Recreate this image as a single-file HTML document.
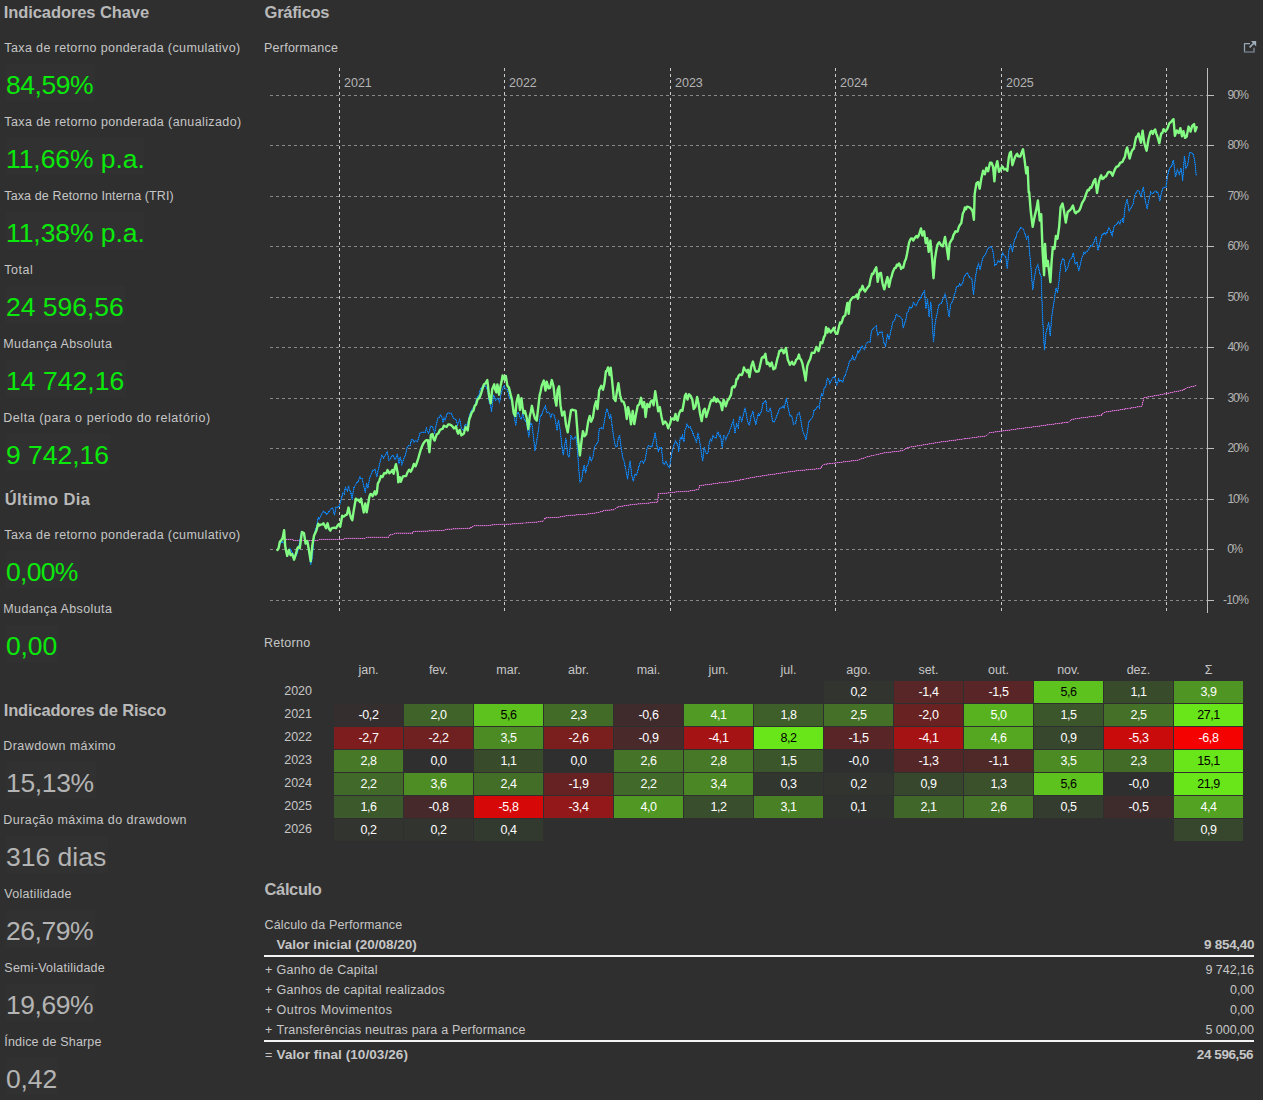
<!DOCTYPE html>
<html><head><meta charset="utf-8"><title>Performance</title>
<style>
html,body{margin:0;padding:0;background:#2f2f2f;}
html{width:1263px;height:1100px;overflow:hidden;}
body{width:1263px;height:1100px;position:relative;overflow:hidden;font-family:"Liberation Sans",sans-serif;color:#c8c8c8;}
div{position:absolute;white-space:nowrap;}
.h{font-size:16.5px;font-weight:bold;color:#b9b9b9;line-height:20px;}
.l{font-size:12.5px;line-height:16px;color:#c6c6c6;}
.b{font-weight:bold;font-size:13.5px;}
.v{font-size:26.5px;height:37px;line-height:43px;color:#0be80b;padding-left:0px;box-sizing:border-box;background:#313131;}
.v.g{color:#b4b4b4;}
.a{font-size:12px;line-height:16px;color:#b4b4b4;}
.mh{top:662px;width:69px;text-align:center;font-size:12.5px;line-height:16px;color:#c6c6c6;}
.yr{left:262px;width:50px;text-align:right;font-size:12.5px;line-height:20px;color:#c6c6c6;}
.c{width:69px;height:22px;line-height:22px;text-align:center;font-size:12.5px;letter-spacing:-0.4px;color:#fff;}
.c.k{color:#000;}
.hr{left:264px;width:990px;height:2px;background:#f4f4f4;}
svg{position:absolute;left:0;top:0;}
.hg{stroke:#888888;stroke-width:1;stroke-dasharray:3 3;shape-rendering:crispEdges;}
.vg{stroke:#cccccc;stroke-width:1;stroke-dasharray:3 3;shape-rendering:crispEdges;}
.ax{stroke:#bebebe;stroke-width:1;shape-rendering:crispEdges;}
.gr{fill:none;stroke:#84fc84;stroke-width:2.4;stroke-linejoin:round;stroke-linecap:round;}
.bl{fill:none;stroke:#0f87f5;stroke-width:1;stroke-dasharray:1 1;shape-rendering:crispEdges;}
.bl0{fill:none;stroke:#1478dc;stroke-width:1.15;opacity:0.75;}
.pk0{fill:none;stroke:#da70d6;stroke-width:1;opacity:0.55;}
.pk{fill:none;stroke:#da70d6;stroke-width:1;stroke-dasharray:1 1;shape-rendering:crispEdges;}
.t{font-family:"Liberation Sans",sans-serif;font-size:12.5px;fill:#b4b4b4;}
</style></head><body>
<div class="h" style="left:3.80px;top:2px;letter-spacing:-0.090px;">Indicadores Chave</div>
<div class="l" style="left:4.30px;top:40px;letter-spacing:0.384px;">Taxa de retorno ponderada (cumulativo)</div>
<div class="v" style="left:6px;top:64px;width:89.0px;padding-left:0.00px;letter-spacing:-0.463px">84,59%</div>
<div class="l" style="left:4.30px;top:114px;letter-spacing:0.392px;">Taxa de retorno ponderada (anualizado)</div>
<div class="v" style="left:6px;top:138px;width:138.4px;padding-left:0.00px;letter-spacing:-0.071px">11,66% p.a.</div>
<div class="l" style="left:4.30px;top:188px;letter-spacing:0.122px;">Taxa de Retorno Interna (TRI)</div>
<div class="v" style="left:6px;top:212px;width:138.4px;padding-left:0.00px;letter-spacing:-0.071px">11,38% p.a.</div>
<div class="l" style="left:4.30px;top:262px;letter-spacing:0.518px;">Total</div>
<div class="v" style="left:6px;top:286px;width:119.0px;padding-left:0.00px;letter-spacing:-0.019px">24 596,56</div>
<div class="l" style="left:3.30px;top:336px;letter-spacing:0.381px;">Mudança Absoluta</div>
<div class="v" style="left:6px;top:360px;width:119.5px;padding-left:0.00px;letter-spacing:0.043px">14 742,16</div>
<div class="l" style="left:3.30px;top:410px;letter-spacing:0.543px;">Delta (para o período do relatório)</div>
<div class="v" style="left:6px;top:434px;width:104.2px;padding-left:0.00px;letter-spacing:-0.031px">9 742,16</div>
<div class="h" style="left:4.80px;top:489px;letter-spacing:0.399px;">Último Dia</div>
<div class="l" style="left:4.30px;top:527px;letter-spacing:0.384px;">Taxa de retorno ponderada (cumulativo)</div>
<div class="v" style="left:6px;top:551px;width:73.8px;padding-left:0.00px;letter-spacing:-0.694px">0,00%</div>
<div class="l" style="left:3.30px;top:601px;letter-spacing:0.381px;">Mudança Absoluta</div>
<div class="v" style="left:6px;top:625px;width:52.4px;padding-left:0.00px;letter-spacing:-0.146px">0,00</div>
<div class="h" style="left:3.80px;top:700px;letter-spacing:-0.178px;">Indicadores de Risco</div>
<div class="l" style="left:3.30px;top:738px;letter-spacing:0.427px;">Drawdown máximo</div>
<div class="v g" style="left:6px;top:762px;width:89.6px;padding-left:0.00px;letter-spacing:-0.343px">15,13%</div>
<div class="l" style="left:3.30px;top:812px;letter-spacing:0.438px;">Duração máxima do drawdown</div>
<div class="v g" style="left:6px;top:836px;width:102.0px;padding-left:0.00px;letter-spacing:0.009px">316 dias</div>
<div class="l" style="left:4.30px;top:886px;letter-spacing:0.301px;">Volatilidade</div>
<div class="v g" style="left:6px;top:910px;width:89.0px;padding-left:0.00px;letter-spacing:-0.463px">26,79%</div>
<div class="l" style="left:4.30px;top:960px;letter-spacing:0.242px;">Semi-Volatilidade</div>
<div class="v g" style="left:6px;top:984px;width:89.0px;padding-left:0.00px;letter-spacing:-0.463px">19,69%</div>
<div class="l" style="left:4.30px;top:1034px;letter-spacing:0.176px;">Índice de Sharpe</div>
<div class="v g" style="left:6px;top:1058px;width:52.4px;padding-left:0.00px;letter-spacing:-0.146px">0,42</div>
<div class="h" style="left:264.60px;top:2px;letter-spacing:-0.295px;">Gráficos</div>
<div class="l" style="left:264.00px;top:40px;letter-spacing:0.239px;">Performance</div>
<div class="l" style="left:264.00px;top:635px;letter-spacing:0.297px;">Retorno</div>
<div class="h" style="left:264.60px;top:879px;letter-spacing:-0.386px;">Cálculo</div>
<div class="l" style="left:264.50px;top:917px;letter-spacing:0.174px;">Cálculo da Performance</div>
<div class="a" style="left:1227.60px;top:87px;letter-spacing:-1.374px;">90%</div>
<div class="a" style="left:1227.60px;top:137px;letter-spacing:-1.374px;">80%</div>
<div class="a" style="left:1227.60px;top:188px;letter-spacing:-1.374px;">70%</div>
<div class="a" style="left:1227.60px;top:238px;letter-spacing:-1.374px;">60%</div>
<div class="a" style="left:1227.60px;top:289px;letter-spacing:-1.374px;">50%</div>
<div class="a" style="left:1227.60px;top:339px;letter-spacing:-1.374px;">40%</div>
<div class="a" style="left:1227.60px;top:390px;letter-spacing:-1.374px;">30%</div>
<div class="a" style="left:1227.60px;top:440px;letter-spacing:-1.374px;">20%</div>
<div class="a" style="left:1227.60px;top:491px;letter-spacing:-1.374px;">10%</div>
<div class="a" style="left:1227.20px;top:541px;letter-spacing:-1.674px;">0%</div>
<div class="a" style="left:1223.00px;top:592px;letter-spacing:-0.715px;">-10%</div>
<svg width="1263" height="640" viewBox="0 0 1263 640">
<line x1="270" y1="95.5" x2="1207" y2="95.5" class="hg"/>
<line x1="1207" y1="95.5" x2="1214" y2="95.5" class="ax"/>
<line x1="270" y1="145.5" x2="1207" y2="145.5" class="hg"/>
<line x1="1207" y1="145.5" x2="1214" y2="145.5" class="ax"/>
<line x1="270" y1="196.5" x2="1207" y2="196.5" class="hg"/>
<line x1="1207" y1="196.5" x2="1214" y2="196.5" class="ax"/>
<line x1="270" y1="246.5" x2="1207" y2="246.5" class="hg"/>
<line x1="1207" y1="246.5" x2="1214" y2="246.5" class="ax"/>
<line x1="270" y1="297.5" x2="1207" y2="297.5" class="hg"/>
<line x1="1207" y1="297.5" x2="1214" y2="297.5" class="ax"/>
<line x1="270" y1="347.5" x2="1207" y2="347.5" class="hg"/>
<line x1="1207" y1="347.5" x2="1214" y2="347.5" class="ax"/>
<line x1="270" y1="398.5" x2="1207" y2="398.5" class="hg"/>
<line x1="1207" y1="398.5" x2="1214" y2="398.5" class="ax"/>
<line x1="270" y1="448.5" x2="1207" y2="448.5" class="hg"/>
<line x1="1207" y1="448.5" x2="1214" y2="448.5" class="ax"/>
<line x1="270" y1="499.5" x2="1207" y2="499.5" class="hg"/>
<line x1="1207" y1="499.5" x2="1214" y2="499.5" class="ax"/>
<line x1="270" y1="549.5" x2="1207" y2="549.5" class="hg"/>
<line x1="1207" y1="549.5" x2="1214" y2="549.5" class="ax"/>
<line x1="270" y1="600.5" x2="1207" y2="600.5" class="hg"/>
<line x1="1207" y1="600.5" x2="1214" y2="600.5" class="ax"/>
<line x1="339.5" y1="68" x2="339.5" y2="611" class="vg"/>
<line x1="504.5" y1="68" x2="504.5" y2="611" class="vg"/>
<line x1="670.5" y1="68" x2="670.5" y2="611" class="vg"/>
<line x1="835.5" y1="68" x2="835.5" y2="611" class="vg"/>
<line x1="1001.5" y1="68" x2="1001.5" y2="611" class="vg"/>
<line x1="1166.5" y1="68" x2="1166.5" y2="611" class="vg"/>
<line x1="1207.5" y1="68" x2="1207.5" y2="613" class="ax"/>
<path d="M283.7,539.4 L293.1,539.4 L294.1,540.5 L318.2,540.5 L319.2,539.4 L343.3,539.4 L344.3,538.4 L365.3,538.4 L366.3,537.3 L388.3,537.3 L389.3,535.2 L393.5,534.2 L395.6,533.1 L412.3,533.1 L413.4,531.5 L428.0,531.0 L445.1,530.3 L446.1,529.3 L470.2,528.2 L474.4,525.7 L486.9,525.7 L496.3,524.5 L509.9,524.1 L524.6,523.0 L537.1,522.0 L543.4,520.9 L545.5,517.8 L558.0,517.4 L566.4,515.7 L580.0,514.6 L584.5,514.5 L599.2,512.4 L604.4,510.3 L613.8,509.9 L617.0,507.2 L622.2,506.1 L632.7,504.5 L643.1,503.6 L657.8,502.0 L658.2,493.6 L666.1,493.2 L676.6,491.9 L689.1,491.1 L698.5,489.4 L699.6,485.6 L705.9,484.8 L718.4,483.1 L732.0,481.5 L741.8,479.6 L755.4,476.9 L776.3,473.8 L797.2,470.7 L820.2,468.6 L823.3,464.4 L841.1,462.3 L857.9,460.2 L866.2,457.1 L884.0,452.9 L902.3,450.8 L907.7,447.5 L940.0,442.1 L985.8,436.0 L989.8,432.7 L1031.5,427.1 L1069.2,422.0 L1071.9,419.3 L1101.5,415.2 L1104.2,412.3 L1141.9,406.3 L1143.8,397.7 L1166.1,393.7 L1182.3,390.2 L1187.7,387.5 L1196.3,385.6" class="pk0"/>
<path d="M283.7,539.4 L293.1,539.4 L294.1,540.5 L318.2,540.5 L319.2,539.4 L343.3,539.4 L344.3,538.4 L365.3,538.4 L366.3,537.3 L388.3,537.3 L389.3,535.2 L393.5,534.2 L395.6,533.1 L412.3,533.1 L413.4,531.5 L428.0,531.0 L445.1,530.3 L446.1,529.3 L470.2,528.2 L474.4,525.7 L486.9,525.7 L496.3,524.5 L509.9,524.1 L524.6,523.0 L537.1,522.0 L543.4,520.9 L545.5,517.8 L558.0,517.4 L566.4,515.7 L580.0,514.6 L584.5,514.5 L599.2,512.4 L604.4,510.3 L613.8,509.9 L617.0,507.2 L622.2,506.1 L632.7,504.5 L643.1,503.6 L657.8,502.0 L658.2,493.6 L666.1,493.2 L676.6,491.9 L689.1,491.1 L698.5,489.4 L699.6,485.6 L705.9,484.8 L718.4,483.1 L732.0,481.5 L741.8,479.6 L755.4,476.9 L776.3,473.8 L797.2,470.7 L820.2,468.6 L823.3,464.4 L841.1,462.3 L857.9,460.2 L866.2,457.1 L884.0,452.9 L902.3,450.8 L907.7,447.5 L940.0,442.1 L985.8,436.0 L989.8,432.7 L1031.5,427.1 L1069.2,422.0 L1071.9,419.3 L1101.5,415.2 L1104.2,412.3 L1141.9,406.3 L1143.8,397.7 L1166.1,393.7 L1182.3,390.2 L1187.7,387.5 L1196.3,385.6" class="pk"/>
<path d="M277.4,549.49 L278.95,546.94 L280.5,542.29 L281.55,542.5 L282.6,542.0 L284.7,543.94 L285.95,551.0 L287.2,555.11 L288.6,552.81 L290.0,548.57 L291.05,550.69 L292.1,552.45 L294.1,555.63 L296.2,555.95 L297.25,552.93 L298.3,549.79 L299.9,539.49 L301.5,531.91 L302.75,534.17 L304.0,536.13 L305.6,543.86 L307.7,542.48 L309.2,552.83 L310.7,564.74 L312.3,558.52 L314.0,537.99 L315.05,530.63 L316.1,528.36 L318.2,517.8 L319.25,519.15 L320.3,516.95 L321.85,513.56 L323.4,511.39 L325.0,512.42 L326.6,514.24 L328.15,512.84 L329.7,510.6 L331.25,508.5 L332.8,507.94 L334.5,515.02 L336.0,507.05 L337.55,507.15 L339.1,506.62 L341.2,499.56 L342.9,493.03 L344.15,493.87 L345.4,487.48 L346.45,489.72 L347.5,490.91 L348.5,485.72 L349.55,489.72 L350.6,491.3 L352.1,499.46 L353.8,487.96 L355.35,485.19 L356.9,482.56 L358.45,480.86 L360.0,476.71 L361.05,478.61 L362.1,478.8 L364.2,487.69 L365.3,492.54 L366.7,483.1 L368.0,488.1 L369.4,478.81 L370.45,475.4 L371.5,474.31 L372.55,470.11 L373.6,470.59 L375.1,469.1 L376.8,476.87 L378.8,467.58 L380.4,460.29 L382.0,455.32 L383.55,458.01 L385.1,455.55 L387.2,451.66 L388.9,460.06 L390.15,459.34 L391.4,456.45 L392.45,455.77 L393.5,455.5 L394.55,458.96 L395.6,459.33 L397.3,453.74 L398.9,464.2 L400.2,456.61 L401.9,464.69 L403.9,458.65 L405.5,454.87 L407.1,447.59 L408.65,445.75 L410.2,445.23 L411.45,439.46 L412.7,439.27 L414.1,442.61 L415.5,440.4 L417.05,441.77 L418.6,438.23 L420.0,433.13 L421.05,432.57 L422.1,432.14 L424.2,432.42 L425.25,432.37 L426.3,428.23 L428.4,433.3 L429.45,431.46 L430.5,426.14 L432.5,426.46 L433.55,430.1 L434.6,432.49 L436.2,425.01 L437.8,418.25 L439.15,417.24 L440.5,414.93 L441.75,416.85 L443.0,421.64 L444.05,417.73 L445.1,420.17 L446.65,414.63 L448.2,412.61 L449.8,413.34 L451.4,413.04 L452.45,416.01 L453.5,418.31 L454.75,418.86 L456.0,419.83 L457.6,424.69 L459.7,419.42 L461.4,428.23 L462.45,429.85 L463.5,430.1 L465.0,424.96 L466.05,424.31 L467.1,426.05 L469.2,416.51 L470.55,412.26 L471.9,409.42 L473.35,407.29 L474.8,406.25 L476.15,400.4 L477.5,397.07 L478.55,398.5 L479.6,390.91 L481.15,388.25 L482.7,386.99 L484.0,386.67 L485.3,385.5 L486.65,387.51 L488.0,392.13 L489.4,403.34 L490.45,404.64 L491.5,411.75 L492.55,403.02 L493.6,394.78 L495.7,400.42 L496.75,399.23 L497.8,398.42 L499.5,402.5 L501.2,392.74 L503.2,387.28 L504.25,385.99 L505.3,388.77 L507.4,389.54 L508.45,393.41 L509.5,398.12 L510.55,396.87 L511.6,401.7 L512.65,406.7 L513.7,413.05 L515.8,425.62 L517.3,412.39 L518.7,413.16 L520.4,418.38 L521.45,419.07 L522.5,414.05 L523.55,417.18 L524.6,420.28 L525.65,420.64 L526.7,422.93 L528.8,437.54 L530.4,423.09 L531.9,423.66 L533.4,436.54 L535.0,450.97 L536.7,441.36 L538.2,432.19 L540.3,415.34 L541.65,414.97 L543.0,410.93 L544.25,408.13 L545.5,405.96 L546.7,412.79 L548.6,412.24 L549.65,413.58 L550.7,417.64 L552.2,413.61 L553.9,414.84 L555.5,420.67 L557.0,430.36 L558.5,419.88 L560.1,429.29 L561.8,445.15 L563.3,455.13 L564.7,444.41 L566.0,438.54 L567.7,454.85 L569.3,456.71 L571.0,435.32 L572.35,439.07 L573.7,439.34 L575.8,436.32 L577.3,447.67 L578.7,468.02 L579.9,482.27 L581.6,480.07 L582.9,471.05 L584.1,465.05 L585.6,473.15 L586.65,466.33 L587.7,465.89 L589.8,456.6 L591.2,460.86 L592.9,457.28 L594.6,446.47 L596.1,444.8 L598.1,441.76 L599.2,429.09 L601.3,427.94 L603.0,428.85 L604.4,420.93 L605.9,412.75 L606.95,409.31 L608.0,411.66 L609.6,418.94 L610.7,414.35 L612.2,426.51 L613.8,438.4 L615.5,446.89 L617.0,446.6 L618.4,437.44 L619.7,435.73 L621.2,448.23 L622.6,457.02 L624.3,461.75 L626.0,470.82 L627.6,479.36 L628.9,468.32 L630.1,460.7 L631.6,474.69 L633.3,481.33 L634.7,474.43 L636.4,475.42 L638.1,469.38 L640.0,463.33 L641.05,461.33 L642.1,460.9 L643.5,462.85 L645.2,460.08 L646.9,449.4 L648.3,445.54 L649.8,446.59 L650.85,445.76 L651.9,446.96 L653.6,440.06 L655.2,432.58 L656.7,444.73 L658.2,451.23 L659.8,447.92 L661.5,447.85 L663.0,462.74 L664.4,464.62 L666.1,461.44 L667.8,465.91 L669.5,467.56 L670.7,459.43 L672.4,450.22 L674.1,444.95 L675.5,440.64 L676.55,443.71 L677.6,443.46 L678.7,451.98 L680.3,437.56 L681.35,438.98 L682.4,436.03 L683.9,442.18 L684.9,430.3 L685.95,428.41 L687.0,424.06 L688.7,427.67 L690.2,426.74 L692.3,431.17 L693.35,434.55 L694.4,436.42 L696.4,442.65 L697.9,432.69 L699.6,441.49 L701.3,452.21 L702.7,461.12 L704.2,447.57 L706.3,453.61 L707.9,452.96 L709.6,441.28 L710.65,438.99 L711.7,441.15 L712.95,435.43 L714.2,437.41 L716.3,437.94 L717.35,432.25 L718.4,432.86 L719.45,436.66 L720.5,435.45 L722.2,447.49 L723.6,435.64 L724.65,436.03 L725.7,439.93 L727.8,434.4 L728.85,433.3 L729.9,430.02 L730.95,427.43 L732.0,423.92 L733.4,420.59 L734.9,433.24 L736.5,424.01 L738.2,427.52 L739.7,415.7 L741.8,421.25 L742.85,416.76 L743.9,412.54 L744.95,407.71 L746.0,412.33 L747.4,420.21 L748.45,424.36 L749.5,424.86 L751.2,415.34 L752.9,411.86 L754.3,418.56 L755.8,424.67 L757.5,417.03 L758.55,413.72 L759.6,415.03 L761.6,411.18 L762.65,404.21 L763.7,402.32 L765.8,400.79 L767.1,411.33 L769.0,411.53 L770.05,408.33 L771.1,410.96 L772.5,421.67 L774.2,422.14 L776.3,416.96 L778.0,413.24 L779.05,409.93 L780.1,408.12 L782.1,407.76 L783.15,405.85 L784.2,408.12 L786.3,398.19 L787.35,403.42 L788.4,408.53 L789.9,415.94 L790.95,415.23 L792.0,416.9 L793.4,424.25 L794.45,423.78 L795.5,423.67 L797.2,414.77 L799.3,412.7 L801.0,420.58 L802.4,430.22 L803.9,433.84 L804.95,436.45 L806.0,440.05 L807.7,429.67 L808.7,421.71 L810.8,419.44 L811.85,418.14 L812.9,416.14 L813.95,410.61 L815.0,409.27 L816.05,409.14 L817.1,406.84 L818.15,406.26 L819.2,407.6 L820.6,397.09 L821.65,394.13 L822.7,395.83 L824.4,387.5 L825.45,387.36 L826.5,382.34 L827.55,378.33 L828.6,379.23 L829.65,383.81 L830.7,381.59 L832.8,377.47 L834.8,376.93 L835.85,381.75 L836.9,384.79 L838.6,379.06 L839.65,381.07 L840.7,380.22 L842.8,382.09 L844.3,376.51 L845.35,375.2 L846.4,371.32 L848.4,366.06 L849.45,361.08 L850.5,360.3 L851.55,359.82 L852.6,356.44 L853.65,359.41 L854.7,360.09 L856.8,355.21 L857.85,350.9 L858.9,352.37 L859.95,350.6 L861.0,347.52 L862.05,345.89 L863.1,348.29 L864.5,349.59 L866.2,343.46 L868.3,341.76 L870.0,342.38 L871.5,330.81 L873.5,328.34 L874.9,326.86 L876.3,326.12 L877.7,335.34 L879.8,331.97 L880.85,332.49 L881.9,331.65 L882.95,337.36 L884.0,343.3 L885.6,346.15 L887.5,333.93 L889.0,339.72 L890.6,331.6 L891.65,328.45 L892.7,322.11 L894.8,320.22 L895.85,315.3 L896.9,314.32 L897.95,316.15 L899.0,316.12 L900.05,316.77 L901.1,317.85 L902.15,319.56 L903.2,328.06 L904.9,322.72 L905.95,319.76 L907.0,313.09 L908.25,311.5 L909.5,306.89 L910.75,308.45 L912.0,307.33 L913.35,302.44 L914.7,303.97 L916.05,306.03 L917.4,303.06 L918.65,300.15 L919.9,299.11 L921.15,297.41 L922.4,293.76 L923.45,292.69 L924.5,290.31 L925.8,308.88 L927.5,298.64 L929.1,316.77 L930.8,301.8 L932.1,320.78 L933.5,342.17 L935.0,324.68 L936.05,318.24 L937.1,313.55 L938.15,308.75 L939.2,304.36 L941.3,303.31 L942.9,299.04 L943.95,297.32 L945.0,293.78 L946.7,300.92 L948.4,313.88 L949.2,316.94 L950.5,304.47 L952.3,302.24 L953.35,298.36 L954.4,294.13 L955.45,292.61 L956.5,286.55 L957.55,286.49 L958.6,286.47 L959.65,283.86 L960.7,285.62 L962.8,282.9 L963.85,277.39 L964.9,275.57 L966.25,273.63 L967.6,272.8 L968.65,275.95 L969.7,277.66 L971.8,278.17 L973.5,294.7 L975.1,280.4 L976.8,269.13 L978.5,263.5 L980.2,270.18 L981.8,261.53 L983.5,256.53 L984.55,255.65 L985.6,254.44 L987.3,249.7 L988.9,247.29 L990.2,247.14 L991.5,246.93 L993.1,251.91 L994.8,265.42 L996.5,264.11 L998.1,260.4 L999.8,262.36 L1001.5,257.4 L1002.55,252.58 L1003.6,254.61 L1004.65,256.02 L1005.7,256.47 L1007.3,268.83 L1008.8,250.5 L1009.85,248.36 L1010.9,244.59 L1012.4,252.15 L1014.0,241.99 L1015.05,238.74 L1016.1,237.51 L1017.15,231.99 L1018.2,231.98 L1020.3,227.99 L1021.35,227.39 L1022.4,228.62 L1023.45,229.18 L1024.5,232.6 L1026.6,238.58 L1028.3,236.02 L1029.4,249.99 L1030.8,265.57 L1032.7,289.97 L1034.6,276.13 L1036.3,267.93 L1037.9,264.41 L1039.8,273.29 L1041.2,276.67 L1042.2,308.46 L1043.4,333.33 L1044.5,350.15 L1046.0,333.2 L1047.4,327.74 L1048.8,322.62 L1050.2,336.17 L1051.6,318.2 L1053.0,307.82 L1054.5,298.85 L1055.9,288.01 L1057.5,292.4 L1059.2,279.64 L1060.6,265.93 L1062.5,258.44 L1063.9,259.42 L1065.8,270.93 L1067.7,267.78 L1069.6,260.12 L1071.5,258.5 L1073.4,252.74 L1075.2,263.98 L1077.1,262.56 L1078.8,271.19 L1080.4,264.44 L1081.6,258.63 L1082.8,255.61 L1084.0,252.22 L1085.2,253.65 L1086.35,251.32 L1087.5,251.01 L1088.7,248.86 L1089.9,247.3 L1091.1,245.25 L1092.3,246.18 L1094.1,241.73 L1096.0,236.41 L1097.9,250.38 L1099.8,242.52 L1101.0,238.54 L1102.2,234.31 L1103.35,234.61 L1104.5,232.72 L1105.7,234.65 L1106.9,232.8 L1108.8,227.76 L1110.7,231.58 L1112.1,235.73 L1114.0,226.95 L1115.15,225.43 L1116.3,224.29 L1117.5,223.13 L1118.7,221.59 L1119.9,224.08 L1121.1,220.09 L1122.25,219.24 L1123.4,222.56 L1125.3,205.4 L1127.2,199.15 L1129.1,211.02 L1131.0,207.75 L1132.9,204.6 L1134.8,195.46 L1136.7,191.44 L1137.85,190.54 L1139.0,191.07 L1140.9,196.43 L1142.1,191.33 L1143.3,187.0 L1145.2,199.87 L1147.1,208.98 L1148.9,199.8 L1150.8,192.38 L1152.0,193.53 L1153.2,193.46 L1154.4,191.71 L1155.6,190.77 L1156.75,192.18 L1157.9,192.25 L1159.8,201.1 L1161.7,191.53 L1162.9,188.43 L1164.1,187.1 L1166.0,187.34 L1167.8,174.42 L1169.7,168.09 L1171.6,165.74 L1173.5,159.94 L1175.4,176.98 L1177.3,169.5 L1179.2,174.42 L1181.1,168.29 L1182.7,180.73 L1184.4,155.92 L1185.8,168.32 L1187.7,164.95 L1189.6,152.65 L1191.5,152.53 L1193.4,154.89 L1194.8,161.36 L1196.2,175.6" class="bl0"/>
<path d="M277.4,549.49 L278.95,546.94 L280.5,542.29 L281.55,542.5 L282.6,542.0 L284.7,543.94 L285.95,551.0 L287.2,555.11 L288.6,552.81 L290.0,548.57 L291.05,550.69 L292.1,552.45 L294.1,555.63 L296.2,555.95 L297.25,552.93 L298.3,549.79 L299.9,539.49 L301.5,531.91 L302.75,534.17 L304.0,536.13 L305.6,543.86 L307.7,542.48 L309.2,552.83 L310.7,564.74 L312.3,558.52 L314.0,537.99 L315.05,530.63 L316.1,528.36 L318.2,517.8 L319.25,519.15 L320.3,516.95 L321.85,513.56 L323.4,511.39 L325.0,512.42 L326.6,514.24 L328.15,512.84 L329.7,510.6 L331.25,508.5 L332.8,507.94 L334.5,515.02 L336.0,507.05 L337.55,507.15 L339.1,506.62 L341.2,499.56 L342.9,493.03 L344.15,493.87 L345.4,487.48 L346.45,489.72 L347.5,490.91 L348.5,485.72 L349.55,489.72 L350.6,491.3 L352.1,499.46 L353.8,487.96 L355.35,485.19 L356.9,482.56 L358.45,480.86 L360.0,476.71 L361.05,478.61 L362.1,478.8 L364.2,487.69 L365.3,492.54 L366.7,483.1 L368.0,488.1 L369.4,478.81 L370.45,475.4 L371.5,474.31 L372.55,470.11 L373.6,470.59 L375.1,469.1 L376.8,476.87 L378.8,467.58 L380.4,460.29 L382.0,455.32 L383.55,458.01 L385.1,455.55 L387.2,451.66 L388.9,460.06 L390.15,459.34 L391.4,456.45 L392.45,455.77 L393.5,455.5 L394.55,458.96 L395.6,459.33 L397.3,453.74 L398.9,464.2 L400.2,456.61 L401.9,464.69 L403.9,458.65 L405.5,454.87 L407.1,447.59 L408.65,445.75 L410.2,445.23 L411.45,439.46 L412.7,439.27 L414.1,442.61 L415.5,440.4 L417.05,441.77 L418.6,438.23 L420.0,433.13 L421.05,432.57 L422.1,432.14 L424.2,432.42 L425.25,432.37 L426.3,428.23 L428.4,433.3 L429.45,431.46 L430.5,426.14 L432.5,426.46 L433.55,430.1 L434.6,432.49 L436.2,425.01 L437.8,418.25 L439.15,417.24 L440.5,414.93 L441.75,416.85 L443.0,421.64 L444.05,417.73 L445.1,420.17 L446.65,414.63 L448.2,412.61 L449.8,413.34 L451.4,413.04 L452.45,416.01 L453.5,418.31 L454.75,418.86 L456.0,419.83 L457.6,424.69 L459.7,419.42 L461.4,428.23 L462.45,429.85 L463.5,430.1 L465.0,424.96 L466.05,424.31 L467.1,426.05 L469.2,416.51 L470.55,412.26 L471.9,409.42 L473.35,407.29 L474.8,406.25 L476.15,400.4 L477.5,397.07 L478.55,398.5 L479.6,390.91 L481.15,388.25 L482.7,386.99 L484.0,386.67 L485.3,385.5 L486.65,387.51 L488.0,392.13 L489.4,403.34 L490.45,404.64 L491.5,411.75 L492.55,403.02 L493.6,394.78 L495.7,400.42 L496.75,399.23 L497.8,398.42 L499.5,402.5 L501.2,392.74 L503.2,387.28 L504.25,385.99 L505.3,388.77 L507.4,389.54 L508.45,393.41 L509.5,398.12 L510.55,396.87 L511.6,401.7 L512.65,406.7 L513.7,413.05 L515.8,425.62 L517.3,412.39 L518.7,413.16 L520.4,418.38 L521.45,419.07 L522.5,414.05 L523.55,417.18 L524.6,420.28 L525.65,420.64 L526.7,422.93 L528.8,437.54 L530.4,423.09 L531.9,423.66 L533.4,436.54 L535.0,450.97 L536.7,441.36 L538.2,432.19 L540.3,415.34 L541.65,414.97 L543.0,410.93 L544.25,408.13 L545.5,405.96 L546.7,412.79 L548.6,412.24 L549.65,413.58 L550.7,417.64 L552.2,413.61 L553.9,414.84 L555.5,420.67 L557.0,430.36 L558.5,419.88 L560.1,429.29 L561.8,445.15 L563.3,455.13 L564.7,444.41 L566.0,438.54 L567.7,454.85 L569.3,456.71 L571.0,435.32 L572.35,439.07 L573.7,439.34 L575.8,436.32 L577.3,447.67 L578.7,468.02 L579.9,482.27 L581.6,480.07 L582.9,471.05 L584.1,465.05 L585.6,473.15 L586.65,466.33 L587.7,465.89 L589.8,456.6 L591.2,460.86 L592.9,457.28 L594.6,446.47 L596.1,444.8 L598.1,441.76 L599.2,429.09 L601.3,427.94 L603.0,428.85 L604.4,420.93 L605.9,412.75 L606.95,409.31 L608.0,411.66 L609.6,418.94 L610.7,414.35 L612.2,426.51 L613.8,438.4 L615.5,446.89 L617.0,446.6 L618.4,437.44 L619.7,435.73 L621.2,448.23 L622.6,457.02 L624.3,461.75 L626.0,470.82 L627.6,479.36 L628.9,468.32 L630.1,460.7 L631.6,474.69 L633.3,481.33 L634.7,474.43 L636.4,475.42 L638.1,469.38 L640.0,463.33 L641.05,461.33 L642.1,460.9 L643.5,462.85 L645.2,460.08 L646.9,449.4 L648.3,445.54 L649.8,446.59 L650.85,445.76 L651.9,446.96 L653.6,440.06 L655.2,432.58 L656.7,444.73 L658.2,451.23 L659.8,447.92 L661.5,447.85 L663.0,462.74 L664.4,464.62 L666.1,461.44 L667.8,465.91 L669.5,467.56 L670.7,459.43 L672.4,450.22 L674.1,444.95 L675.5,440.64 L676.55,443.71 L677.6,443.46 L678.7,451.98 L680.3,437.56 L681.35,438.98 L682.4,436.03 L683.9,442.18 L684.9,430.3 L685.95,428.41 L687.0,424.06 L688.7,427.67 L690.2,426.74 L692.3,431.17 L693.35,434.55 L694.4,436.42 L696.4,442.65 L697.9,432.69 L699.6,441.49 L701.3,452.21 L702.7,461.12 L704.2,447.57 L706.3,453.61 L707.9,452.96 L709.6,441.28 L710.65,438.99 L711.7,441.15 L712.95,435.43 L714.2,437.41 L716.3,437.94 L717.35,432.25 L718.4,432.86 L719.45,436.66 L720.5,435.45 L722.2,447.49 L723.6,435.64 L724.65,436.03 L725.7,439.93 L727.8,434.4 L728.85,433.3 L729.9,430.02 L730.95,427.43 L732.0,423.92 L733.4,420.59 L734.9,433.24 L736.5,424.01 L738.2,427.52 L739.7,415.7 L741.8,421.25 L742.85,416.76 L743.9,412.54 L744.95,407.71 L746.0,412.33 L747.4,420.21 L748.45,424.36 L749.5,424.86 L751.2,415.34 L752.9,411.86 L754.3,418.56 L755.8,424.67 L757.5,417.03 L758.55,413.72 L759.6,415.03 L761.6,411.18 L762.65,404.21 L763.7,402.32 L765.8,400.79 L767.1,411.33 L769.0,411.53 L770.05,408.33 L771.1,410.96 L772.5,421.67 L774.2,422.14 L776.3,416.96 L778.0,413.24 L779.05,409.93 L780.1,408.12 L782.1,407.76 L783.15,405.85 L784.2,408.12 L786.3,398.19 L787.35,403.42 L788.4,408.53 L789.9,415.94 L790.95,415.23 L792.0,416.9 L793.4,424.25 L794.45,423.78 L795.5,423.67 L797.2,414.77 L799.3,412.7 L801.0,420.58 L802.4,430.22 L803.9,433.84 L804.95,436.45 L806.0,440.05 L807.7,429.67 L808.7,421.71 L810.8,419.44 L811.85,418.14 L812.9,416.14 L813.95,410.61 L815.0,409.27 L816.05,409.14 L817.1,406.84 L818.15,406.26 L819.2,407.6 L820.6,397.09 L821.65,394.13 L822.7,395.83 L824.4,387.5 L825.45,387.36 L826.5,382.34 L827.55,378.33 L828.6,379.23 L829.65,383.81 L830.7,381.59 L832.8,377.47 L834.8,376.93 L835.85,381.75 L836.9,384.79 L838.6,379.06 L839.65,381.07 L840.7,380.22 L842.8,382.09 L844.3,376.51 L845.35,375.2 L846.4,371.32 L848.4,366.06 L849.45,361.08 L850.5,360.3 L851.55,359.82 L852.6,356.44 L853.65,359.41 L854.7,360.09 L856.8,355.21 L857.85,350.9 L858.9,352.37 L859.95,350.6 L861.0,347.52 L862.05,345.89 L863.1,348.29 L864.5,349.59 L866.2,343.46 L868.3,341.76 L870.0,342.38 L871.5,330.81 L873.5,328.34 L874.9,326.86 L876.3,326.12 L877.7,335.34 L879.8,331.97 L880.85,332.49 L881.9,331.65 L882.95,337.36 L884.0,343.3 L885.6,346.15 L887.5,333.93 L889.0,339.72 L890.6,331.6 L891.65,328.45 L892.7,322.11 L894.8,320.22 L895.85,315.3 L896.9,314.32 L897.95,316.15 L899.0,316.12 L900.05,316.77 L901.1,317.85 L902.15,319.56 L903.2,328.06 L904.9,322.72 L905.95,319.76 L907.0,313.09 L908.25,311.5 L909.5,306.89 L910.75,308.45 L912.0,307.33 L913.35,302.44 L914.7,303.97 L916.05,306.03 L917.4,303.06 L918.65,300.15 L919.9,299.11 L921.15,297.41 L922.4,293.76 L923.45,292.69 L924.5,290.31 L925.8,308.88 L927.5,298.64 L929.1,316.77 L930.8,301.8 L932.1,320.78 L933.5,342.17 L935.0,324.68 L936.05,318.24 L937.1,313.55 L938.15,308.75 L939.2,304.36 L941.3,303.31 L942.9,299.04 L943.95,297.32 L945.0,293.78 L946.7,300.92 L948.4,313.88 L949.2,316.94 L950.5,304.47 L952.3,302.24 L953.35,298.36 L954.4,294.13 L955.45,292.61 L956.5,286.55 L957.55,286.49 L958.6,286.47 L959.65,283.86 L960.7,285.62 L962.8,282.9 L963.85,277.39 L964.9,275.57 L966.25,273.63 L967.6,272.8 L968.65,275.95 L969.7,277.66 L971.8,278.17 L973.5,294.7 L975.1,280.4 L976.8,269.13 L978.5,263.5 L980.2,270.18 L981.8,261.53 L983.5,256.53 L984.55,255.65 L985.6,254.44 L987.3,249.7 L988.9,247.29 L990.2,247.14 L991.5,246.93 L993.1,251.91 L994.8,265.42 L996.5,264.11 L998.1,260.4 L999.8,262.36 L1001.5,257.4 L1002.55,252.58 L1003.6,254.61 L1004.65,256.02 L1005.7,256.47 L1007.3,268.83 L1008.8,250.5 L1009.85,248.36 L1010.9,244.59 L1012.4,252.15 L1014.0,241.99 L1015.05,238.74 L1016.1,237.51 L1017.15,231.99 L1018.2,231.98 L1020.3,227.99 L1021.35,227.39 L1022.4,228.62 L1023.45,229.18 L1024.5,232.6 L1026.6,238.58 L1028.3,236.02 L1029.4,249.99 L1030.8,265.57 L1032.7,289.97 L1034.6,276.13 L1036.3,267.93 L1037.9,264.41 L1039.8,273.29 L1041.2,276.67 L1042.2,308.46 L1043.4,333.33 L1044.5,350.15 L1046.0,333.2 L1047.4,327.74 L1048.8,322.62 L1050.2,336.17 L1051.6,318.2 L1053.0,307.82 L1054.5,298.85 L1055.9,288.01 L1057.5,292.4 L1059.2,279.64 L1060.6,265.93 L1062.5,258.44 L1063.9,259.42 L1065.8,270.93 L1067.7,267.78 L1069.6,260.12 L1071.5,258.5 L1073.4,252.74 L1075.2,263.98 L1077.1,262.56 L1078.8,271.19 L1080.4,264.44 L1081.6,258.63 L1082.8,255.61 L1084.0,252.22 L1085.2,253.65 L1086.35,251.32 L1087.5,251.01 L1088.7,248.86 L1089.9,247.3 L1091.1,245.25 L1092.3,246.18 L1094.1,241.73 L1096.0,236.41 L1097.9,250.38 L1099.8,242.52 L1101.0,238.54 L1102.2,234.31 L1103.35,234.61 L1104.5,232.72 L1105.7,234.65 L1106.9,232.8 L1108.8,227.76 L1110.7,231.58 L1112.1,235.73 L1114.0,226.95 L1115.15,225.43 L1116.3,224.29 L1117.5,223.13 L1118.7,221.59 L1119.9,224.08 L1121.1,220.09 L1122.25,219.24 L1123.4,222.56 L1125.3,205.4 L1127.2,199.15 L1129.1,211.02 L1131.0,207.75 L1132.9,204.6 L1134.8,195.46 L1136.7,191.44 L1137.85,190.54 L1139.0,191.07 L1140.9,196.43 L1142.1,191.33 L1143.3,187.0 L1145.2,199.87 L1147.1,208.98 L1148.9,199.8 L1150.8,192.38 L1152.0,193.53 L1153.2,193.46 L1154.4,191.71 L1155.6,190.77 L1156.75,192.18 L1157.9,192.25 L1159.8,201.1 L1161.7,191.53 L1162.9,188.43 L1164.1,187.1 L1166.0,187.34 L1167.8,174.42 L1169.7,168.09 L1171.6,165.74 L1173.5,159.94 L1175.4,176.98 L1177.3,169.5 L1179.2,174.42 L1181.1,168.29 L1182.7,180.73 L1184.4,155.92 L1185.8,168.32 L1187.7,164.95 L1189.6,152.65 L1191.5,152.53 L1193.4,154.89 L1194.8,161.36 L1196.2,175.6" class="bl"/>
<path d="M277.4,550.04 L278.6,548.3 L279.8,541.88 L281.0,540.69 L282.6,538.27 L284.1,530.18 L285.2,546.37 L287.2,555.89 L288.9,549.99 L290.6,555.21 L292.1,553.91 L294.1,559.64 L296.2,552.95 L297.25,548.63 L298.3,547.0 L299.8,547.98 L301.9,532.04 L302.95,532.55 L304.0,533.32 L305.6,543.65 L307.3,541.05 L308.8,549.33 L310.7,561.39 L312.3,545.79 L314.0,535.78 L315.25,532.9 L316.5,530.18 L318.2,523.77 L319.25,525.54 L320.3,524.72 L322.4,524.41 L323.45,523.28 L324.5,525.06 L326.05,528.23 L327.6,523.31 L328.95,528.78 L330.3,530.61 L331.55,528.3 L332.8,527.92 L334.4,527.77 L336.0,528.15 L337.55,525.6 L339.1,523.91 L340.2,526.82 L342.2,515.8 L343.8,516.54 L345.4,515.14 L346.95,514.6 L348.5,507.57 L350.0,514.25 L351.15,518.19 L352.3,520.19 L353.8,510.15 L355.8,498.62 L357.1,500.19 L358.4,499.7 L360.0,501.98 L361.05,498.73 L362.1,503.9 L363.8,512.42 L365.3,503.49 L366.7,512.21 L368.4,502.54 L369.45,496.54 L370.5,493.97 L371.55,494.34 L372.6,496.25 L374.7,491.36 L375.75,494.53 L376.8,493.06 L377.8,483.63 L379.35,480.73 L380.9,476.08 L382.5,476.95 L384.1,473.28 L386.2,473.33 L387.6,470.02 L389.3,473.13 L390.85,472.11 L392.4,470.01 L393.6,473.74 L394.8,468.16 L396.0,464.13 L397.7,473.24 L398.3,482.41 L399.8,477.16 L400.8,481.69 L402.9,476.43 L404.45,476.1 L406.0,476.14 L407.6,472.14 L409.2,469.77 L410.75,471.63 L412.3,468.65 L413.9,463.99 L415.5,466.34 L417.05,462.26 L418.6,457.28 L420.7,449.73 L422.4,445.37 L423.65,443.02 L424.9,441.37 L426.3,440.19 L427.9,440.18 L429.4,452.22 L430.9,434.83 L432.5,433.95 L433.55,438.85 L434.6,440.61 L436.7,434.41 L438.3,433.56 L439.9,430.06 L441.25,429.21 L442.6,428.79 L443.85,425.63 L445.1,426.46 L446.65,426.94 L448.2,424.4 L449.8,424.53 L451.4,425.37 L452.65,426.59 L453.9,428.44 L454.95,427.96 L456.0,426.36 L457.05,431.06 L458.1,433.65 L459.7,429.91 L461.4,435.28 L462.65,434.54 L463.9,433.51 L465.6,427.03 L467.7,430.4 L469.2,419.7 L470.55,415.97 L471.9,412.17 L473.35,410.82 L474.8,405.68 L476.15,404.48 L477.5,399.39 L479.1,398.35 L480.7,394.72 L482.7,387.82 L484.0,384.28 L485.3,383.51 L487.3,380.11 L489.0,395.25 L490.7,403.24 L492.2,389.26 L494.2,384.33 L495.25,389.67 L496.3,392.39 L497.4,384.36 L499.1,394.68 L500.5,386.07 L501.55,381.82 L502.6,375.41 L504.7,380.02 L505.8,375.94 L507.4,385.84 L508.9,387.61 L510.4,393.85 L512.0,399.92 L513.7,413.16 L515.2,416.04 L516.6,401.89 L518.3,395.06 L520.0,409.93 L521.4,398.2 L522.45,406.44 L523.5,413.31 L525.0,411.08 L526.7,417.68 L528.3,429.01 L529.8,416.13 L530.85,411.7 L531.9,405.83 L533.4,412.73 L535.0,418.46 L536.7,420.5 L538.2,407.96 L539.6,395.36 L540.65,391.27 L541.7,385.87 L543.8,380.56 L545.5,390.64 L546.7,381.61 L548.6,388.38 L550.1,387.85 L551.8,380.06 L553.4,385.71 L554.9,398.6 L556.4,405.65 L557.6,390.07 L559.1,386.32 L560.5,405.38 L562.2,415.55 L564.3,411.5 L566.0,424.89 L567.7,432.32 L569.5,420.12 L571.0,410.18 L572.35,409.76 L573.7,410.1 L575.8,410.68 L577.3,429.61 L577.9,438.25 L579.9,455.45 L581.6,440.36 L582.9,431.2 L584.5,436.22 L586.2,434.2 L588.3,421.06 L589.8,415.93 L591.2,421.66 L592.9,417.6 L594.6,406.1 L596.1,401.32 L597.5,408.95 L599.2,390.29 L601.3,385.85 L603.0,389.84 L604.4,383.63 L605.9,371.29 L606.95,370.67 L608.0,367.5 L609.6,375.08 L610.7,367.64 L612.2,381.59 L613.8,398.44 L615.5,400.95 L617.0,390.9 L618.4,383.1 L620.1,395.24 L621.8,401.42 L623.5,401.6 L625.1,406.32 L626.8,418.92 L628.1,407.29 L629.5,412.98 L631.0,424.3 L632.7,410.86 L634.3,424.06 L636.0,414.23 L637.7,405.74 L639.3,404.42 L641.0,397.81 L642.7,407.28 L644.2,402.09 L645.6,417.11 L647.3,403.84 L648.35,406.3 L649.4,407.02 L650.45,402.37 L651.5,400.64 L652.55,400.54 L653.6,405.23 L655.2,391.29 L656.7,400.68 L658.2,411.3 L659.8,407.11 L661.5,416.82 L663.2,424.16 L665.1,421.42 L666.5,423.17 L668.2,428.24 L670.3,423.06 L671.35,418.58 L672.4,418.5 L674.1,419.84 L675.5,413.87 L676.55,419.25 L677.6,420.59 L679.1,413.5 L680.8,410.16 L682.4,410.82 L683.9,402.2 L684.95,395.79 L686.0,393.88 L687.5,399.55 L689.1,394.28 L690.8,396.16 L692.3,399.54 L693.7,409.03 L695.4,406.73 L697.1,396.93 L698.5,403.47 L700.0,413.51 L701.7,421.14 L703.3,410.97 L704.8,408.73 L706.3,416.94 L707.9,411.5 L708.95,408.04 L710.0,403.98 L711.05,400.93 L712.1,399.7 L713.15,401.06 L714.2,397.35 L716.3,401.97 L717.35,399.0 L718.4,400.68 L719.45,401.99 L720.5,402.72 L722.2,410.15 L723.6,399.62 L724.65,402.23 L725.7,406.29 L727.8,399.97 L728.85,399.23 L729.9,396.91 L730.95,394.9 L732.0,387.87 L733.4,386.19 L734.45,387.35 L735.5,385.07 L736.55,379.05 L737.6,378.95 L738.65,375.69 L739.7,374.46 L741.8,375.12 L742.85,372.47 L743.9,367.44 L744.95,369.74 L746.0,370.5 L747.05,372.17 L748.1,369.86 L749.5,377.02 L751.2,366.7 L752.9,361.53 L753.95,365.55 L755.0,370.03 L756.25,371.69 L757.5,371.48 L758.55,371.31 L759.6,367.56 L761.6,358.39 L762.65,356.95 L763.7,357.56 L765.4,353.85 L766.9,364.01 L768.3,362.55 L770.0,366.23 L771.7,362.57 L773.4,369.29 L775.2,368.2 L777.3,358.91 L778.35,355.56 L779.4,350.93 L780.45,351.1 L781.5,349.52 L782.55,349.93 L783.6,353.22 L784.75,351.53 L785.9,347.91 L787.8,359.68 L788.85,362.11 L789.9,364.83 L790.95,362.93 L792.0,361.66 L793.05,364.37 L794.1,364.54 L795.15,362.6 L796.2,359.66 L797.55,358.76 L798.9,354.58 L799.95,358.7 L801.0,359.66 L802.4,363.41 L803.9,371.0 L805.6,380.57 L807.2,366.08 L808.7,361.9 L810.2,359.0 L811.8,352.74 L813.1,352.91 L814.4,352.8 L816.4,346.9 L817.45,349.26 L818.5,351.05 L819.55,348.13 L820.6,342.24 L822.3,343.16 L824.0,336.99 L825.05,335.33 L826.1,327.25 L827.5,332.63 L828.55,328.77 L829.6,330.51 L830.65,332.38 L831.7,331.04 L833.8,327.81 L834.85,331.29 L835.9,333.49 L837.4,333.69 L839.0,326.81 L840.05,322.44 L841.1,323.46 L842.15,320.95 L843.2,317.1 L845.3,315.11 L846.35,308.37 L847.4,302.88 L848.7,313.75 L849.9,301.4 L850.95,299.95 L852.0,298.23 L853.05,297.18 L854.1,297.39 L855.8,296.41 L856.85,294.55 L857.9,298.71 L858.9,293.7 L859.95,289.72 L861.0,290.14 L862.5,285.81 L864.1,290.21 L865.15,291.46 L866.2,289.61 L868.3,286.64 L869.35,285.37 L870.4,279.7 L872.1,273.67 L873.15,274.07 L874.2,271.17 L876.3,267.26 L877.7,281.77 L879.2,273.57 L880.9,272.94 L882.5,283.24 L884.0,288.66 L884.4,289.26 L886.0,282.35 L887.5,277.09 L889.0,286.91 L890.6,279.2 L891.65,276.4 L892.7,272.29 L894.8,267.85 L895.85,267.77 L896.9,264.64 L897.95,265.7 L899.0,263.46 L900.05,265.33 L901.1,268.94 L902.15,267.4 L903.2,267.63 L904.9,261.06 L905.95,258.9 L907.0,253.95 L909.0,242.89 L910.05,240.13 L911.1,238.49 L912.15,238.34 L913.2,240.56 L915.3,237.2 L916.35,235.94 L917.4,237.47 L918.45,236.05 L919.5,233.18 L921.0,228.44 L922.4,235.57 L924.1,231.34 L925.8,243.08 L927.2,238.2 L928.7,251.93 L930.4,240.58 L932.1,258.48 L933.5,278.24 L935.0,258.51 L936.05,252.06 L937.1,245.84 L938.15,243.42 L939.2,242.23 L941.3,245.73 L942.9,246.31 L943.95,241.81 L945.0,237.04 L946.7,247.39 L948.4,259.25 L949.6,243.5 L951.3,240.35 L952.35,239.08 L953.4,235.18 L954.45,233.35 L955.5,231.33 L956.55,231.68 L957.6,231.51 L958.65,227.43 L959.7,225.17 L961.3,223.12 L962.8,213.53 L963.85,211.53 L964.9,207.53 L965.95,209.32 L967.0,206.59 L968.05,206.83 L969.1,207.1 L970.15,207.94 L971.2,208.96 L972.6,211.43 L973.9,219.83 L974.7,193.58 L976.4,183.43 L978.1,182.04 L979.7,188.67 L981.4,178.15 L983.1,170.68 L984.8,174.32 L986.4,167.77 L988.1,171.2 L990.0,162.66 L991.5,162.8 L993.1,166.8 L994.4,181.33 L995.6,167.9 L997.3,161.1 L999.0,171.77 L1000.7,169.01 L1002.3,166.44 L1004.0,169.41 L1005.7,168.86 L1007.3,170.77 L1008.8,157.34 L1009.85,152.99 L1010.9,151.78 L1012.4,165.19 L1014.0,160.12 L1015.05,157.08 L1016.1,155.02 L1017.15,153.78 L1018.2,156.3 L1020.3,156.58 L1021.65,152.68 L1023.0,149.25 L1024.5,159.42 L1026.2,173.26 L1027.6,167.11 L1028.7,192.53 L1029.2,191.89 L1030.8,211.82 L1032.7,226.78 L1034.6,216.64 L1036.3,209.64 L1037.9,200.52 L1039.8,220.67 L1041.2,214.13 L1042.6,251.66 L1044.1,275.27 L1045.0,243.86 L1046.4,266.03 L1047.8,260.79 L1049.3,273.04 L1050.4,282.17 L1051.6,261.52 L1052.8,247.16 L1054.5,248.89 L1055.9,236.0 L1057.5,238.68 L1059.2,226.34 L1060.6,207.35 L1062.5,203.46 L1063.9,210.32 L1065.8,222.57 L1067.7,211.98 L1069.3,210.73 L1071.0,209.13 L1072.9,205.52 L1074.8,212.25 L1075.95,213.25 L1077.1,211.64 L1078.3,211.59 L1079.5,210.08 L1080.7,207.24 L1081.9,203.46 L1083.05,201.47 L1084.2,199.7 L1085.4,196.01 L1086.6,192.68 L1087.75,189.87 L1088.9,190.36 L1090.1,187.55 L1091.3,187.69 L1092.5,184.82 L1093.7,181.25 L1095.3,179.07 L1097.0,192.93 L1098.9,181.85 L1100.05,177.81 L1101.2,175.26 L1102.4,178.98 L1103.6,178.43 L1104.8,176.61 L1106.0,176.48 L1107.15,173.99 L1108.3,172.21 L1109.5,171.83 L1110.7,172.09 L1112.6,175.62 L1113.75,172.29 L1114.9,169.44 L1116.35,166.74 L1117.8,166.51 L1118.95,165.14 L1120.1,162.88 L1121.3,162.31 L1122.5,161.9 L1123.7,159.09 L1124.9,156.94 L1126.05,150.54 L1127.2,147.41 L1128.4,153.05 L1129.6,158.62 L1131.5,151.77 L1132.65,149.59 L1133.8,148.86 L1135.0,142.19 L1136.2,137.02 L1137.4,136.19 L1138.6,133.56 L1139.75,138.99 L1140.9,142.71 L1142.6,130.74 L1144.2,142.62 L1145.4,147.02 L1146.6,150.71 L1148.5,138.99 L1150.4,132.05 L1151.55,130.9 L1152.7,133.94 L1153.9,130.95 L1155.1,129.43 L1156.25,133.62 L1157.4,136.47 L1159.3,143.17 L1161.2,133.58 L1162.4,132.91 L1163.6,129.15 L1165.5,131.48 L1167.4,128.61 L1169.3,123.35 L1171.1,121.89 L1172.3,120.34 L1173.5,119.15 L1174.9,135.81 L1176.8,130.44 L1178.7,133.06 L1180.4,128.24 L1182.0,136.22 L1183.4,131.11 L1185.1,137.84 L1186.7,136.52 L1188.6,126.56 L1190.5,131.68 L1192.2,125.81 L1194.1,124.07 L1195.2,131.28 L1196.7,127.2" class="gr"/>
<text x="344" y="87" class="t">2021</text>
<text x="509" y="87" class="t">2022</text>
<text x="675" y="87" class="t">2023</text>
<text x="840" y="87" class="t">2024</text>
<text x="1006" y="87" class="t">2025</text>
<g fill="none" stroke-linejoin="round"><path d="M1250,43.6H1244.5V52" stroke="#9aa8b8" stroke-width="1.2"/><path d="M1244,52H1254V47.8" stroke="#6f7783" stroke-width="1.7"/><path d="M1249.6,47.4L1254.5,42.5" stroke="#9fadbd" stroke-width="1.7"/><path d="M1251,41H1256.2V46.4Z" fill="#9fadbd"/></g>
</svg>
<div class="mh" style="left:334px">jan.</div>
<div class="mh" style="left:404px">fev.</div>
<div class="mh" style="left:474px">mar.</div>
<div class="mh" style="left:544px">abr.</div>
<div class="mh" style="left:614px">mai.</div>
<div class="mh" style="left:684px">jun.</div>
<div class="mh" style="left:754px">jul.</div>
<div class="mh" style="left:824px">ago.</div>
<div class="mh" style="left:894px">set.</div>
<div class="mh" style="left:964px">out.</div>
<div class="mh" style="left:1034px">nov.</div>
<div class="mh" style="left:1104px">dez.</div>
<div class="mh" style="left:1174px">Σ</div>
<div class="yr" style="top:681px">2020</div>
<div class="c" style="left:824px;top:681px;background:#31342f">0,2</div>
<div class="c" style="left:894px;top:681px;background:#582626">-1,4</div>
<div class="c" style="left:964px;top:681px;background:#5a2526">-1,5</div>
<div class="c k" style="left:1034px;top:681px;background:#5dc11e">5,6</div>
<div class="c" style="left:1104px;top:681px;background:#384c2c">1,1</div>
<div class="c" style="left:1174px;top:681px;background:#4f9523">3,9</div>
<div class="yr" style="top:704px">2021</div>
<div class="c" style="left:334px;top:704px;background:#352e2f">-0,2</div>
<div class="c" style="left:404px;top:704px;background:#406329">2,0</div>
<div class="c k" style="left:474px;top:704px;background:#5dc11e">5,6</div>
<div class="c" style="left:544px;top:704px;background:#426b28">2,3</div>
<div class="c" style="left:614px;top:704px;background:#402b2c">-0,6</div>
<div class="c" style="left:684px;top:704px;background:#519a23">4,1</div>
<div class="c" style="left:754px;top:704px;background:#3e5e2a">1,8</div>
<div class="c" style="left:824px;top:704px;background:#447028">2,5</div>
<div class="c" style="left:894px;top:704px;background:#692222">-2,0</div>
<div class="c" style="left:964px;top:704px;background:#58b220">5,0</div>
<div class="c" style="left:1034px;top:704px;background:#3b562b">1,5</div>
<div class="c" style="left:1104px;top:704px;background:#447028">2,5</div>
<div class="c k" style="left:1174px;top:704px;background:#69e619">27,1</div>
<div class="yr" style="top:727px">2022</div>
<div class="c" style="left:334px;top:727px;background:#7d1d1d">-2,7</div>
<div class="c" style="left:404px;top:727px;background:#6f2021">-2,2</div>
<div class="c" style="left:474px;top:727px;background:#4c8a24">3,5</div>
<div class="c" style="left:544px;top:727px;background:#7a1e1e">-2,6</div>
<div class="c" style="left:614px;top:727px;background:#49292a">-0,9</div>
<div class="c" style="left:684px;top:727px;background:#a61314">-4,1</div>
<div class="c k" style="left:754px;top:727px;background:#69e619">8,2</div>
<div class="c" style="left:824px;top:727px;background:#5a2526">-1,5</div>
<div class="c" style="left:894px;top:727px;background:#a61314">-4,1</div>
<div class="c" style="left:964px;top:727px;background:#55a721">4,6</div>
<div class="c" style="left:1034px;top:727px;background:#36472d">0,9</div>
<div class="c" style="left:1104px;top:727px;background:#c90b0c">-5,3</div>
<div class="c" style="left:1174px;top:727px;background:#f40101">-6,8</div>
<div class="yr" style="top:750px">2023</div>
<div class="c" style="left:334px;top:750px;background:#467827">2,8</div>
<div class="c" style="left:404px;top:750px;background:#2f2f30">0,0</div>
<div class="c" style="left:474px;top:750px;background:#384c2c">1,1</div>
<div class="c" style="left:544px;top:750px;background:#2f2f30">0,0</div>
<div class="c" style="left:614px;top:750px;background:#457327">2,6</div>
<div class="c" style="left:684px;top:750px;background:#467827">2,8</div>
<div class="c" style="left:754px;top:750px;background:#3b562b">1,5</div>
<div class="c" style="left:824px;top:750px;background:#2f2f30">-0,0</div>
<div class="c" style="left:894px;top:750px;background:#552627">-1,3</div>
<div class="c" style="left:964px;top:750px;background:#4f2828">-1,1</div>
<div class="c" style="left:1034px;top:750px;background:#4c8a24">3,5</div>
<div class="c" style="left:1104px;top:750px;background:#426b28">2,3</div>
<div class="c k" style="left:1174px;top:750px;background:#69e619">15,1</div>
<div class="yr" style="top:773px">2024</div>
<div class="c" style="left:334px;top:773px;background:#416929">2,2</div>
<div class="c" style="left:404px;top:773px;background:#4d8d24">3,6</div>
<div class="c" style="left:474px;top:773px;background:#436e28">2,4</div>
<div class="c" style="left:544px;top:773px;background:#662223">-1,9</div>
<div class="c" style="left:614px;top:773px;background:#416929">2,2</div>
<div class="c" style="left:684px;top:773px;background:#4b8825">3,4</div>
<div class="c" style="left:754px;top:773px;background:#31372f">0,3</div>
<div class="c" style="left:824px;top:773px;background:#31342f">0,2</div>
<div class="c" style="left:894px;top:773px;background:#36472d">0,9</div>
<div class="c" style="left:964px;top:773px;background:#3a512c">1,3</div>
<div class="c k" style="left:1034px;top:773px;background:#5dc11e">5,6</div>
<div class="c" style="left:1104px;top:773px;background:#2f2f30">-0,0</div>
<div class="c k" style="left:1174px;top:773px;background:#69e619">21,9</div>
<div class="yr" style="top:796px">2025</div>
<div class="c" style="left:334px;top:796px;background:#3c592b">1,6</div>
<div class="c" style="left:404px;top:796px;background:#462a2b">-0,8</div>
<div class="c" style="left:474px;top:796px;background:#d70808">-5,8</div>
<div class="c" style="left:544px;top:796px;background:#921819">-3,4</div>
<div class="c" style="left:614px;top:796px;background:#509823">4,0</div>
<div class="c" style="left:684px;top:796px;background:#394e2c">1,2</div>
<div class="c" style="left:754px;top:796px;background:#498026">3,1</div>
<div class="c" style="left:824px;top:796px;background:#303230">0,1</div>
<div class="c" style="left:894px;top:796px;background:#406629">2,1</div>
<div class="c" style="left:964px;top:796px;background:#457327">2,6</div>
<div class="c" style="left:1034px;top:796px;background:#333c2e">0,5</div>
<div class="c" style="left:1104px;top:796px;background:#3e2c2d">-0,5</div>
<div class="c" style="left:1174px;top:796px;background:#53a222">4,4</div>
<div class="yr" style="top:819px">2026</div>
<div class="c" style="left:334px;top:819px;background:#31342f">0,2</div>
<div class="c" style="left:404px;top:819px;background:#31342f">0,2</div>
<div class="c" style="left:474px;top:819px;background:#32392f">0,4</div>
<div class="c" style="left:1174px;top:819px;background:#36472d">0,9</div>
<div class="l b" style="left:276.60px;top:937px;letter-spacing:-0.006px;">Valor inicial (20/08/20)</div>
<div class="l b" style="left:1204.10px;top:937px;letter-spacing:-0.306px;">9 854,40</div>
<div class="l" style="left:265px;top:962px">+</div>
<div class="l" style="left:276.60px;top:962px;letter-spacing:0.246px;">Ganho de Capital</div>
<div class="l" style="left:1205.50px;top:962px;letter-spacing:-0.029px;">9 742,16</div>
<div class="l" style="left:265px;top:982px">+</div>
<div class="l" style="left:276.60px;top:982px;letter-spacing:0.253px;">Ganhos de capital realizados</div>
<div class="l" style="left:1230.10px;top:982px;letter-spacing:-0.159px;">0,00</div>
<div class="l" style="left:265px;top:1002px">+</div>
<div class="l" style="left:276.60px;top:1002px;letter-spacing:0.436px;">Outros Movimentos</div>
<div class="l" style="left:1230.10px;top:1002px;letter-spacing:-0.159px;">0,00</div>
<div class="l" style="left:265px;top:1022px">+</div>
<div class="l" style="left:276.60px;top:1022px;letter-spacing:0.186px;">Transferências neutras para a Performance</div>
<div class="l" style="left:1205.50px;top:1022px;letter-spacing:-0.029px;">5 000,00</div>
<div class="l" style="left:265px;top:1047px">=</div>
<div class="l b" style="left:276.60px;top:1047px;letter-spacing:0.071px;">Valor final (10/03/26)</div>
<div class="l b" style="left:1196.80px;top:1047px;letter-spacing:-0.419px;">24 596,56</div>
<div class="hr" style="top:955px"></div>
<div class="hr" style="top:1040px"></div>
</body></html>
